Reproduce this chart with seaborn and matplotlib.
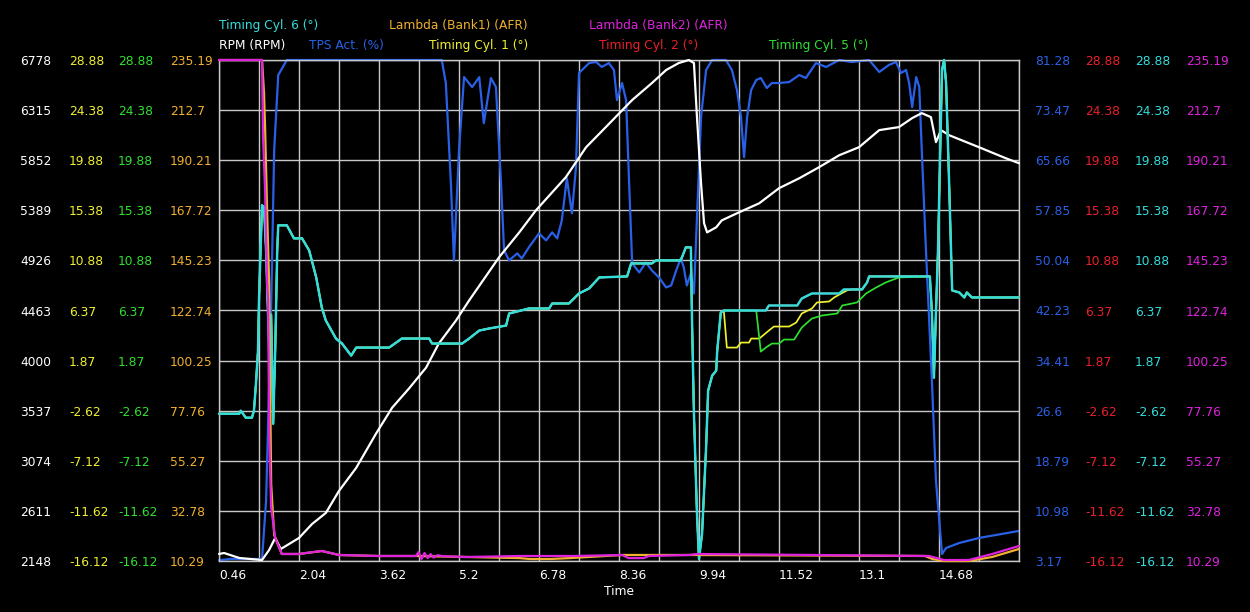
import matplotlib
matplotlib.use("Agg")
import matplotlib.pyplot as plt
import matplotlib.ticker as mticker
import seaborn as sns

# ---------------- data ----------------
x_ticks = [0.46, 2.04, 3.62, 5.2, 6.78, 8.36, 9.94, 11.52, 13.1, 14.68]
x_tick_labels = ["0.46", "2.04", "3.62", "5.2", "6.78", "8.36", "9.94", "11.52", "13.1", "14.68"]
x_range = [0.46, 16.26]
x_grid_step = 0.79

rpm_ticks = ["2148", "2611", "3074", "3537", "4000", "4463", "4926", "5389", "5852", "6315", "6778"]
timing_ticks = ["-16.12", "-11.62", "-7.12", "-2.62", "1.87", "6.37", "10.88", "15.38", "19.88", "24.38", "28.88"]
lambda_ticks = ["10.29", "32.78", "55.27", "77.76", "100.25", "122.74", "145.23", "167.72", "190.21", "212.7", "235.19"]
tps_ticks = ["3.17", "10.98", "18.79", "26.6", "34.41", "42.23", "50.04", "57.85", "65.66", "73.47", "81.28"]

rpm_time = [0.46, 0.56, 0.86, 1.31, 1.45, 1.57, 1.68, 1.78, 2.04, 2.30,
            2.57, 2.83, 3.17, 3.56, 3.88, 4.21, 4.55, 4.80, 5.14, 5.40,
            5.99, 6.39, 6.72, 7.31, 7.71, 8.10, 8.62, 9.01, 9.29, 9.54,
            9.74, 9.84, 9.90, 9.98, 10.04, 10.10, 10.28, 10.39, 10.73, 11.13,
            11.52, 11.92, 12.31, 12.71, 13.10, 13.50, 13.89, 14.15, 14.34, 14.52,
            14.62, 14.72, 14.88, 15.47, 16.00, 16.26]
rpm = [2213, 2222, 2176, 2157, 2250, 2361, 2259, 2287, 2361, 2491,
       2592, 2796, 3009, 3324, 3565, 3741, 3935, 4157, 4370, 4556,
       4954, 5185, 5389, 5695, 5972, 6158, 6408, 6565, 6685, 6750,
       6778, 6750, 6250, 5639, 5269, 5185, 5232, 5296, 5370, 5454,
       5593, 5685, 5787, 5898, 5972, 6130, 6158, 6241, 6287, 6250,
       6019, 6130, 6083, 5972, 5870, 5824]

tps_time = [0.46, 0.70, 1.31, 1.39, 1.49, 1.55, 1.63, 1.80, 4.86, 4.94,
            5.04, 5.10, 5.20, 5.30, 5.46, 5.60, 5.69, 5.83, 5.93, 6.03,
            6.09, 6.19, 6.35, 6.44, 6.58, 6.78, 6.92, 7.04, 7.14, 7.23,
            7.33, 7.43, 7.51, 7.57, 7.77, 7.91, 8.02, 8.16, 8.26, 8.32,
            8.42, 8.50, 8.56, 8.62, 8.76, 8.89, 9.01, 9.15, 9.29, 9.39,
            9.49, 9.58, 9.64, 9.70, 9.78, 9.84, 9.90, 9.98, 10.08, 10.20,
            10.47, 10.59, 10.69, 10.77, 10.83, 10.89, 10.97, 11.07, 11.16, 11.28,
            11.38, 11.52, 11.72, 11.92, 12.05, 12.25, 12.45, 12.71, 12.96, 13.30,
            13.50, 13.69, 13.83, 13.93, 14.03, 14.09, 14.15, 14.23, 14.29, 14.34,
            14.42, 14.54, 14.62, 14.74, 14.82, 15.08, 15.47, 16.26]
tps = [3.3, 3.50, 3.48, 12.54, 42.69, 67.22, 78.94, 81.28, 81.28, 77.69,
       62.08, 50.04, 67.22, 78.62, 77.06, 78.62, 71.44, 78.47, 77.06, 62.08,
       51.60, 50.04, 51.13, 50.35, 52.07, 54.25, 53.16, 54.41, 53.47, 56.28,
       62.85, 57.38, 64.56, 79.25, 80.81, 80.97, 80.19, 80.81, 79.72, 75.03,
       77.69, 75.03, 62.07, 49.57, 48.16, 49.72, 48.47, 47.38, 45.82, 46.13,
       48.47, 50.35, 48.94, 46.13, 48.01, 44.88, 56.75, 72.38, 79.72, 81.28,
       81.28, 79.72, 76.59, 72.38, 66.13, 72.38, 76.59, 78.16, 78.47, 76.91,
       77.69, 77.69, 77.84, 78.94, 78.47, 80.81, 80.19, 81.28, 80.97, 81.28,
       79.41, 80.50, 80.97, 79.25, 79.72, 77.69, 73.94, 78.62, 77.06, 67.22,
       52.07, 31.29, 15.67, 4.26, 5.20, 5.98, 6.76, 7.86]

cyl6_time = [0.46, 0.86, 0.89, 0.99, 1.11, 1.15, 1.19, 1.23, 1.25, 1.27,
             1.31, 1.35, 1.39, 1.45, 1.49, 1.53, 1.57, 1.61, 1.63, 1.80,
             1.94, 2.10, 2.24, 2.38, 2.49, 2.57, 2.77, 2.89, 3.07, 3.17,
             3.82, 3.96, 4.07, 4.61, 4.67, 5.26, 5.40, 5.60, 5.79, 6.13,
             6.19, 6.58, 6.98, 7.04, 7.37, 7.57, 7.77, 7.97, 8.52, 8.60,
             9.01, 9.09, 9.58, 9.68, 9.78, 9.80, 9.84, 9.90, 9.94, 10.00,
             10.08, 10.12, 10.20, 10.28, 10.30, 10.37, 10.43, 11.26, 11.32, 11.88,
             11.97, 12.17, 12.71, 12.80, 13.16, 13.26, 13.30, 14.50, 14.54, 14.58,
             14.62, 14.66, 14.74, 14.78, 14.82, 14.88, 14.94, 15.08, 15.18, 15.23,
             15.33, 16.26]
cyl6 = [-2.89, -2.89, -2.62, -3.25, -3.25, -2.62, -0.19, 2.78, 7.28, 10.25,
        15.83, 15.65, 11.78, 2.78, 6.00, -3.79, 2.78, 11.78, 14.03, 14.03,
        12.86, 12.86, 11.78, 9.35, 6.65, 5.48, 3.86, 3.41, 2.33, 3.05,
        3.05, 3.50, 3.86, 3.86, 3.41, 3.41, 3.86, 4.58, 4.76, 5.03,
        6.11, 6.56, 6.56, 7.01, 7.01, 7.91, 8.36, 9.35, 9.44, 10.61,
        10.61, 10.88, 10.88, 12.05, 12.05, 6.00, -2.89, -11.89, -15.94, -13.69,
        -5.95, -0.82, 0.53, 0.98, 2.78, 6.20, 6.38, 6.38, 6.83, 6.83,
        7.46, 7.91, 7.91, 8.27, 8.27, 8.90, 9.44, 9.44, 6.20, 0.35,
        6.20, 11.78, 27.98, 28.88, 26.81, 17.81, 8.18, 8.00, 7.55, 8.00,
        7.55, 7.55]

# Cyl. 1 and Cyl. 5 follow Cyl. 6 except where they separate from it
cyl1_seg_time = [10.43, 10.49, 10.69, 10.77, 10.93, 10.97, 11.13, 11.32, 11.42, 11.72,
                 11.86, 11.97, 12.17, 12.27, 12.51, 12.61, 12.75, 12.86, 12.95]
cyl1_seg = [6.38, 3.05, 3.05, 3.50, 3.50, 3.86, 3.86, 4.58, 4.94, 4.94,
            5.30, 6.11, 6.56, 7.10, 7.19, 7.55, 7.91, 8.18, 8.27]
cyl5_seg_time = [11.07, 11.16, 11.26, 11.38, 11.52, 11.62, 11.82, 11.97, 12.17, 12.37,
                 12.67, 12.77, 13.06, 13.24, 13.44, 13.63, 13.89]
cyl5_seg = [6.38, 2.69, 3.05, 3.41, 3.41, 3.77, 3.77, 4.85, 5.66, 5.93,
            6.11, 6.83, 7.10, 7.91, 8.45, 8.90, 9.35]

lam2_time = [0.46, 1.31, 1.33, 1.37, 1.41, 1.43, 1.45, 1.49, 1.57, 1.70,
             2.04, 2.18, 2.49, 2.83, 3.60, 4.35, 4.40, 4.46, 4.52, 4.58,
             4.64, 4.70, 4.78, 4.86, 5.34, 6.39, 7.50, 8.42, 8.55, 8.85,
             8.95, 9.74, 9.90, 14.48, 14.78, 15.27, 15.73, 16.26]
lam2 = [235.19, 235.19, 200.56, 176.72, 134.88, 127.24, 67.41, 34.13, 20.64, 13.44,
        13.44, 13.89, 14.79, 12.99, 12.54, 12.54, 14.3, 11.2, 13.9, 11.6,
        13.4, 11.8, 12.9, 12.5, 12.09, 12.54, 12.54, 12.99, 11.6, 11.6,
        12.54, 12.99, 13.44, 12.54, 10.74, 10.74, 13.44, 17.04]

lam1_time = [0.46, 1.31, 1.35, 1.37, 1.41, 1.45, 1.49, 1.55, 1.70, 2.04,
             2.49, 2.83, 3.60, 4.35, 5.34, 6.39, 6.60, 7.00, 7.40, 8.42,
             9.74, 14.40, 14.55, 14.78, 15.27, 15.73, 16.26]
lam1 = [235.19, 235.19, 220.0, 205.05, 167.72, 134.88, 45.0, 22.0, 13.44, 13.44,
        14.79, 12.99, 12.54, 12.54, 12.09, 11.6, 11.19, 11.19, 11.6, 12.99,
        12.99, 12.54, 11.19, 10.29, 10.29, 12.09, 15.69]


def splice(base_t, base_v, seg_t, seg_v):
    before = [(t, v) for t, v in zip(base_t, base_v) if t < seg_t[0]]
    after = [(t, v) for t, v in zip(base_t, base_v) if t > seg_t[-1]]
    pts = before + list(zip(seg_t, seg_v)) + after
    return [p[0] for p in pts], [p[1] for p in pts]


cyl1_time, cyl1 = splice(cyl6_time, cyl6, cyl1_seg_time, cyl1_seg)
cyl5_time, cyl5 = splice(cyl6_time, cyl6, cyl5_seg_time, cyl5_seg)
cyl2_time, cyl2 = list(cyl6_time), list(cyl6)   # identical trace, lies under Cyl. 6

# ---------------- style ----------------
C_RPM = "#ffffff"
C_TPS = "#2a60e6"
C_T1 = "#f0f032"
C_T2 = "#e8202c"
C_T5 = "#30e030"
C_T6 = "#34dcdc"
C_L1 = "#f0b030"
C_L2 = "#de22de"
GRID = "#c8c8c8"
FS = 8.8
LW = 1.6
LW_UNDER = 1.25   # traces mostly covered by Cyl. 6

sns.set_theme(style="dark")
plt.rcParams["font.family"] = ["DejaVu Sans"]

W, H = 1250, 612
L, R, T, B = 219, 1019, 60, 561
fig = plt.figure(figsize=(W / 100, H / 100), dpi=100, facecolor="black")
ax_tps = fig.add_axes([L / W, 1 - B / H, (R - L) / W, (B - T) / H])
ax_tps.set_facecolor("black")

ax_rpm = ax_tps.twinx()
ax_t2 = ax_tps.twinx()
ax_t1 = ax_tps.twinx()
ax_t5 = ax_tps.twinx()
ax_t6 = ax_tps.twinx()
ax_l1 = ax_tps.twinx()
ax_l2 = ax_tps.twinx()

series = [
    (ax_tps, tps_time, tps, C_TPS, tps_ticks, "right", 1035, LW),
    (ax_rpm, rpm_time, rpm, C_RPM, rpm_ticks, "left", 20, LW),
    (ax_t2, cyl2_time, cyl2, C_T2, timing_ticks, "right", 1085, LW_UNDER),
    (ax_t1, cyl1_time, cyl1, C_T1, timing_ticks, "left", 69, LW_UNDER),
    (ax_t5, cyl5_time, cyl5, C_T5, timing_ticks, "left", 118, LW_UNDER),
    (ax_t6, cyl6_time, cyl6, C_T6, timing_ticks, "right", 1135, 1.75),
    (ax_l1, lam1_time, lam1, C_L1, lambda_ticks, "left", 170, LW),
    (ax_l2, lam2_time, lam2, C_L2, lambda_ticks, "right", 1186, LW),
]

for ax, xs, ys, col, ticks, side, xpix, lw in series:
    sns.lineplot(x=xs, y=ys, ax=ax, color=col, linewidth=lw, estimator=None,
                 sort=False, legend=False, clip_on=False)
    vals = [float(s) for s in ticks]
    ax.set_ylim(vals[0], vals[-1])
    ax.set_xlim(*x_range)
    ax.set_yticks(vals, labels=ticks)
    if side == "left":
        ax.yaxis.tick_left()
        pad_px = L - xpix
    else:
        ax.yaxis.tick_right()
        pad_px = xpix - R
    ax.tick_params(axis="y", which="both", length=0, pad=pad_px * 0.72,
                   labelcolor=col, labelsize=FS)
    for tk in ax.yaxis.get_major_ticks():
        tk.label1.set_horizontalalignment("left")
        tk.label2.set_horizontalalignment("left")
    ax.set_ylabel("")
    if ax is not ax_tps:
        ax.grid(False)
        for s in ax.spines.values():
            s.set_visible(False)

# base axis: grid, frame, x ticks
ax_tps.set_xticks(x_ticks, labels=x_tick_labels)
ax_tps.xaxis.set_minor_locator(mticker.MultipleLocator(x_grid_step, offset=x_range[0]))
ax_tps.tick_params(axis="x", which="both", length=0, pad=6, labelcolor="white", labelsize=FS)
for tk in ax_tps.xaxis.get_major_ticks():
    tk.label1.set_horizontalalignment("left")
ax_tps.grid(True, which="both", axis="x", color=GRID, linewidth=1.0)
ax_tps.grid(True, which="major", axis="y", color=GRID, linewidth=1.0)
for s in ax_tps.spines.values():
    s.set_visible(True)
    s.set_color(GRID)
    s.set_linewidth(1.0)
ax_tps.set_xlabel("Time", color="white", fontsize=FS, labelpad=2)

# channel legend along the top
legend_items = [
    ("Timing Cyl. 6 (°)", C_T6, 219, 26),
    ("Lambda (Bank1) (AFR)", C_L1, 389, 26),
    ("Lambda (Bank2) (AFR)", C_L2, 589, 26),
    ("RPM (RPM)", C_RPM, 219, 46),
    ("TPS Act. (%)", C_TPS, 309, 46),
    ("Timing Cyl. 1 (°)", C_T1, 429, 46),
    ("Timing Cyl. 2 (°)", C_T2, 599, 46),
    ("Timing Cyl. 5 (°)", C_T5, 769, 46),
]
for text, col, px, py in legend_items:
    fig.text(px / W, 1 - py / H, text, color=col, fontsize=FS, ha="left", va="center")

fig.savefig("out.png", dpi=100, facecolor="black")
